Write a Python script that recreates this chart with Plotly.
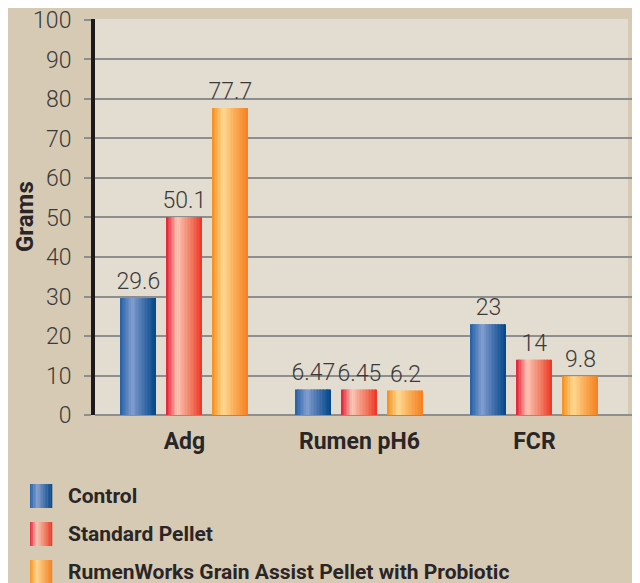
import plotly.graph_objects as go

categories = ["Adg", "Rumen pH6", "FCR"]
series_names = ["Control", "Standard Pellet", "RumenWorks Grain Assist Pellet with Probiotic"]
control = [29.6, 6.47, 23]
standard = [50.1, 6.45, 14]
rumenworks = [77.7, 6.2, 9.8]
value_text = [["29.6", "6.47", "23"], ["50.1", "6.45", "14"], ["77.7", "6.2", "9.8"]]
y_ticks = [0, 10, 20, 30, 40, 50, 60, 70, 80, 90, 100]

series_values = [control, standard, rumenworks]

gradients = [
    [(0.0, (0x24, 0x5f, 0xa6)), (0.33, (0x82, 0x9e, 0xcf)), (0.7, (0x3a, 0x6b, 0xa8)), (1.0, (0x03, 0x47, 0x88))],
    [(0.0, (0xe4, 0x1e, 0x32)), (0.3, (0xfb, 0xc6, 0xb6)), (0.7, (0xf2, 0x7c, 0x62)), (1.0, (0xee, 0x33, 0x24))],
    [(0.0, (0xf6, 0x8e, 0x1e)), (0.3, (0xff, 0xd9, 0x92)), (0.7, (0xf9, 0xa4, 0x4c)), (1.0, (0xf5, 0x80, 0x20))],
]


def grad_color(stops, t):
    for (t0, c0), (t1, c1) in zip(stops, stops[1:]):
        if t0 <= t <= t1:
            f = (t - t0) / (t1 - t0)
            c = [round(a + (b - a) * f) for a, b in zip(c0, c1)]
            return "rgb(%d,%d,%d)" % tuple(c)
    c = stops[-1][1]
    return "rgb(%d,%d,%d)" % c


# page offset (browser body margin) compensation
OFF = 8
PL, PR, PT, PB = 95 - OFF, 637 - OFF, 19 - OFF, 415 - OFF


def px(x):
    return (x - OFF - PL) / (PR - PL)


def py(y):
    return (PB - (y - OFF)) / (PB - PT)


BAR_W = 0.2
STEP = 0.263
N = 24
fig = go.Figure()

for i, (name, vals) in enumerate(zip(series_names, series_values)):
    center = (i - 1) * STEP
    for j in range(N):
        t = (j + 0.5) / N
        fig.add_trace(go.Bar(
            x=categories, y=vals,
            offset=center - BAR_W / 2 + j * BAR_W / N,
            width=BAR_W / N * 1.3 if j < N - 1 else BAR_W / N,
            marker=dict(color=grad_color(gradients[i], t), line=dict(width=0)),
            showlegend=False, hoverinfo="skip",
        ))
    fig.add_trace(go.Bar(
        x=categories, y=vals, name=name,
        offset=center - BAR_W / 2, width=BAR_W,
        marker=dict(color="rgba(0,0,0,0)", line=dict(width=0)),
        text=value_text[i], textposition="outside", constraintext="none",
        textfont=dict(family="Roboto", size=23, color="#3a3a3a", weight=300),
        cliponaxis=False, showlegend=False,
    ))

shapes = [dict(type="rect", xref="paper", yref="paper", x0=0, x1=px(628), y0=0, y1=1,
               fillcolor="#e3dcd0", line=dict(width=0), layer="below")]
annotations = []

legend_rows = [496, 534, 572]
for i, name in enumerate(series_names):
    yc = legend_rows[i]
    M = 14
    for j in range(M):
        t = (j + 0.5) / M
        shapes.append(dict(type="rect", xref="paper", yref="paper",
                           x0=px(30 + 22 * j / M), x1=px(30 + 22 * (j + 1) / M + 0.3),
                           y0=py(yc + 12), y1=py(yc - 12),
                           fillcolor=grad_color(gradients[i], t), line=dict(width=0)))
    annotations.append(dict(xref="paper", yref="paper", x=px(66), y=py(yc), xanchor="left",
                            yanchor="middle", text=name, showarrow=False,
                            font=dict(family="Roboto", size=21, color="#2a2627", weight=700)))

annotations.append(dict(xref="paper", yref="paper", x=px(25), y=py(217), text="Grams",
                        textangle=-90, showarrow=False, xanchor="center", yanchor="middle",
                        font=dict(family="Roboto", size=24, color="#2a2627", weight=700)))

fig.update_layout(
    width=640, height=583,
    margin=dict(l=PL, r=640 - PR, t=PT, b=583 - PB, autoexpand=False),
    paper_bgcolor="#d6cab4", plot_bgcolor="rgba(0,0,0,0)",
    barmode="overlay", showlegend=False,
    shapes=shapes, annotations=annotations,
    xaxis=dict(range=[-0.511, 2.586], showgrid=False, showline=False, zeroline=False,
               automargin=False,
               ticks="", tickfont=dict(family="Roboto", size=23, color="#2a2627", weight=700),
               ticklabelstandoff=10),
    yaxis=dict(range=[0, 100.25], tickvals=y_ticks, showgrid=True, gridcolor="#8e8e8e",
               gridwidth=1.5, zeroline=True, zerolinecolor="#8e8e8e", zerolinewidth=1.5,
               showline=True, linecolor="#1e1a1b", linewidth=4, automargin=False,
               ticks="outside", ticklen=7, tickcolor="#8e8e8e", tickwidth=1.5,
               ticklabelstandoff=8, ticklabeloverflow="allow",
               tickfont=dict(family="Roboto", size=23, color="#3a3a3a", weight=300)),
)

fig.write_html("out.html")
